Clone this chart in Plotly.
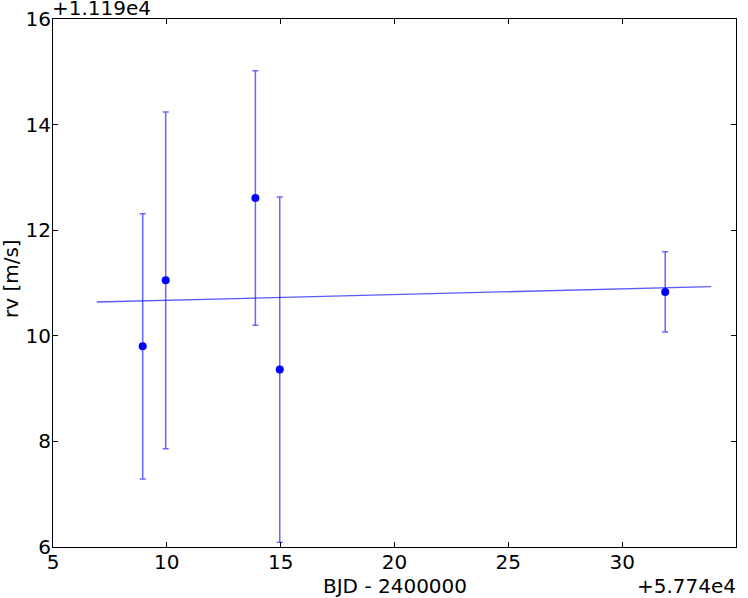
import plotly.graph_objects as go

# offsets (matplotlib-style offset labels)
x_offset = 57740
y_offset = 11190

# data (relative to offsets)
bjd_rel = [8.94, 9.95, 13.89, 14.96, 31.89]
rv_rel = [9.80, 11.05, 12.61, 9.36, 10.83]
rv_err = [2.51, 3.19, 2.41, 3.27, 0.76]

# fitted line endpoints
fit_x_rel = [6.92, 33.90]
fit_y_rel = [10.64, 10.93]

x_ticks = [5, 10, 15, 20, 25, 30, 35]
y_ticks = [6, 8, 10, 12, 14, 16]

bjd = [x_offset + v for v in bjd_rel]
rv = [y_offset + v for v in rv_rel]
fit_x = [x_offset + v for v in fit_x_rel]
fit_y = [y_offset + v for v in fit_y_rel]

fig = go.Figure()
fig.add_trace(go.Scatter(
    x=fit_x, y=fit_y, mode="lines",
    line=dict(color="rgba(0,0,255,0.65)", width=1.3),
    showlegend=False, hoverinfo="skip"))
fig.add_trace(go.Scatter(
    x=bjd, y=rv, mode="markers",
    marker=dict(color="#0000ff", size=8),
    error_y=dict(type="data", array=rv_err, visible=True,
                 color="rgba(0,0,255,0.6)", thickness=1.5, width=3),
    showlegend=False))

font = dict(family="DejaVu Sans", size=20, color="black")

fig.update_layout(
    width=748, height=598,
    margin=dict(l=53, r=12, t=19, b=51),
    plot_bgcolor="white", paper_bgcolor="white",
    font=font,
    xaxis=dict(
        range=[x_offset + 5, x_offset + 35],
        tickvals=[x_offset + t for t in x_ticks],
        ticktext=[str(t) for t in x_ticks],
        ticks="inside", ticklen=5, tickcolor="black", tickwidth=1,
        showline=True, linecolor="black", linewidth=1, mirror="ticks",
        showgrid=False, zeroline=False, automargin=False,
        tickfont=font, ticklabelstandoff=-3,
    ),
    yaxis=dict(
        range=[y_offset + 6, y_offset + 16],
        tickvals=[y_offset + t for t in y_ticks],
        ticktext=[str(t) for t in y_ticks],
        ticks="inside", ticklen=5, tickcolor="black", tickwidth=1,
        showline=True, linecolor="black", linewidth=1, mirror="ticks",
        showgrid=False, zeroline=False, automargin=False,
        tickfont=font, ticklabelstandoff=-3,
    ),
    annotations=[
        dict(text="+1.119e4", x=0, y=1, xref="paper", yref="paper",
             xanchor="left", yanchor="middle", showarrow=False,
             font=font, yshift=11, xshift=-3),
        dict(text="+5.774e4", x=1, y=0, xref="paper", yref="paper",
             xanchor="right", yanchor="middle", showarrow=False,
             font=font, yshift=-39, xshift=2),
        dict(text="BJD - 2400000", x=0.5, y=0, xref="paper", yref="paper",
             xanchor="center", yanchor="middle", showarrow=False,
             font=font, yshift=-39),
        dict(text="rv [m/s]", x=0, y=0.5, xref="paper", yref="paper",
             xanchor="center", yanchor="middle", showarrow=False,
             font=font, textangle=-90, xshift=-42, yshift=4),
    ],
)

fig.write_html("out.html", config={"displayModeBar": False},
               post_script="document.body.style.margin='0px';")
